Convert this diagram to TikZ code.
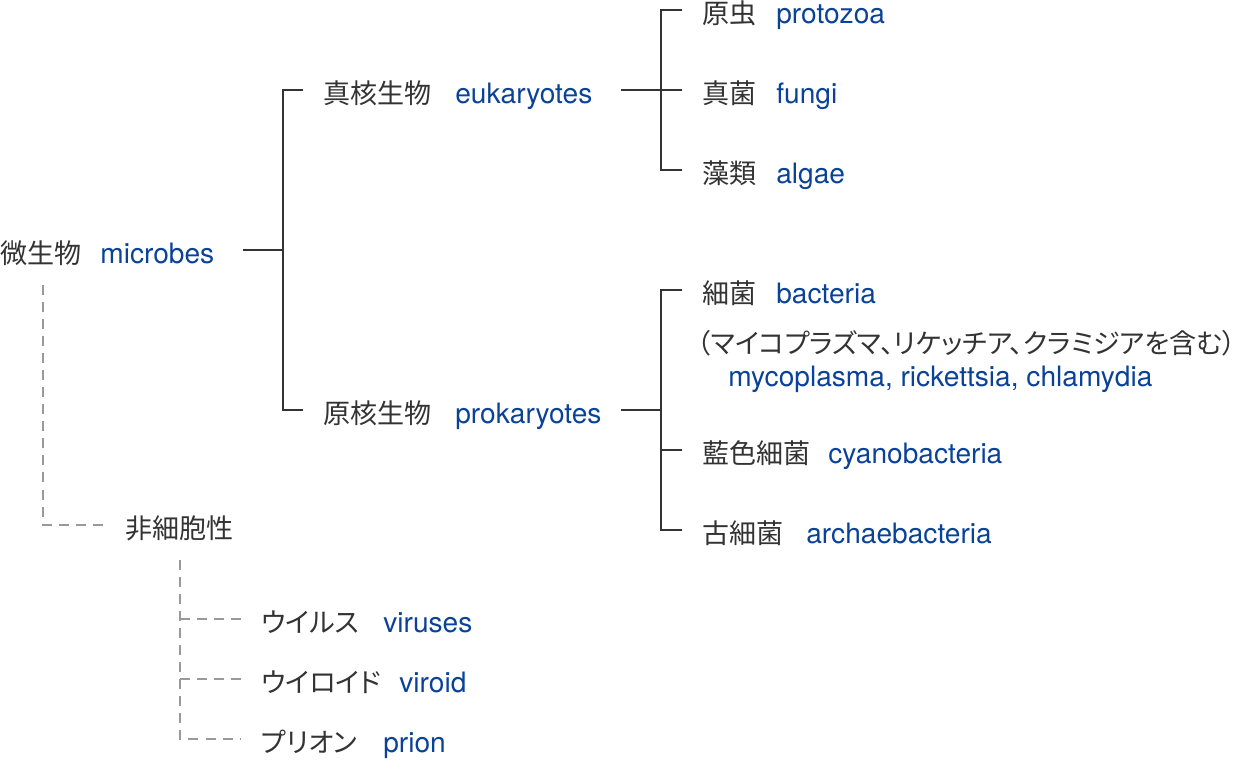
\documentclass[tikz,border=0pt]{standalone}
\usepackage{fontspec}
\newfontfamily\jpfont[RawFeature=+palt]{Noto Sans CJK JP}
\newfontfamily\enfont{TeX Gyre Heros}
\definecolor{jgray}{HTML}{333333}
\definecolor{eblue}{HTML}{0A4298}
\definecolor{dgray}{HTML}{999999}
\tikzset{
  jp/.style={anchor=west, inner sep=0pt, text height=16pt, text depth=.2pt, text=jgray, font=\jpfont\fontsize{15.4}{18}\selectfont},
  en/.style={anchor=west, inner sep=0pt, text height=16pt, text depth=.2pt, text=eblue, font=\enfont\fontsize{16}{18}\selectfont},
  tree/.style={draw=jgray, line width=1.1pt},
  dashline/.style={draw=dgray, line width=.8pt, dash pattern=on 5.7pt off 4pt}
}
\begin{document}
\begin{tikzpicture}[x=0.02cm,y=-0.02cm]
\useasboundingbox (0,0) rectangle (1246,760);
% root
\node[jp] (mic) at (0,250) {微生物};
\node[en] (micE) at (100,250) {microbes};
\node[jp] (euk) at (323,90) {真核生物};
\node[en] (eukE) at (455,90) {eukaryotes};
\node[jp] (pro) at (323,410) {原核生物};
\node[en] (proE) at (455,410) {prokaryotes};
\coordinate (m0) at (243,250);
\draw[tree] (m0) -- ++(40,0) coordinate (m1);
\draw[tree] ([xshift=-.4cm]euk.west) -| (m1) |- ([xshift=-.4cm]pro.west);
% eukaryotes
\foreach \n/\y/\ja/\la in {proto/10/原虫/protozoa, fung/90/真菌/fungi, alg/170/藻類/algae}
{\node[jp] (\n) at (702,\y) {\ja};
 \node[en] (\n E) at (776,\y) {\la};}
\coordinate (e0) at (621,90);
\draw[tree] (e0) -- ++(40,0) coordinate (e1);
\draw[tree] ([xshift=-.4cm]proto.west) -| (e1) |- ([xshift=-.4cm]alg.west);
\draw[tree] (e1) -- ([xshift=-.4cm]fung.west);
% prokaryotes
\node[jp] (bac) at (702,290) {細菌};
\node[en] (bacE) at (776,290) {bacteria};
\node[jp] (myc) at (697,340) {（マイコプラズマ、リケッチア、クラミジアを含む）};
\node[en] (mycE) at (728,373) {mycoplasma, rickettsia, chlamydia};
\node[jp] (cya) at (702,450) {藍色細菌};
\node[en] (cyaE) at (828,450) {cyanobacteria};
\node[jp] (arc) at (702,530) {古細菌};
\node[en] (arcE) at (806,530) {archaebacteria};
\coordinate (p0) at (621,410);
\draw[tree] (p0) -- ++(40,0) coordinate (p1);
\draw[tree] ([xshift=-.4cm]bac.west) -| (p1) |- ([xshift=-.4cm]arc.west);
\draw[tree] (cya.west -| p1) -- ([xshift=-.4cm]cya.west);
% acellular
\node[jp] (acel) at (125,525) {非細胞性};
\coordinate (d0) at (43,285);
\draw[dashline] (d0) |- ([xshift=-.4cm]acel.west);
\foreach \n/\y/\ja/\x/\la in {vir/619/ウイルス/383/viruses, vrd/679/ウイロイド/399/viroid, pri/739/プリオン/383/prion}
{\node[jp] (\n) at (261,\y) {\ja};
 \node[en] (\n E) at (\x,\y) {\la};}
\coordinate (d1) at (180,560);
\draw[dashline] (d1) |- ([xshift=-.4cm]pri.west);
\foreach \n in {vir,vrd}
\draw[dashline] (\n.west -| d1) -- ([xshift=-.4cm]\n.west);
\end{tikzpicture}
\end{document}
